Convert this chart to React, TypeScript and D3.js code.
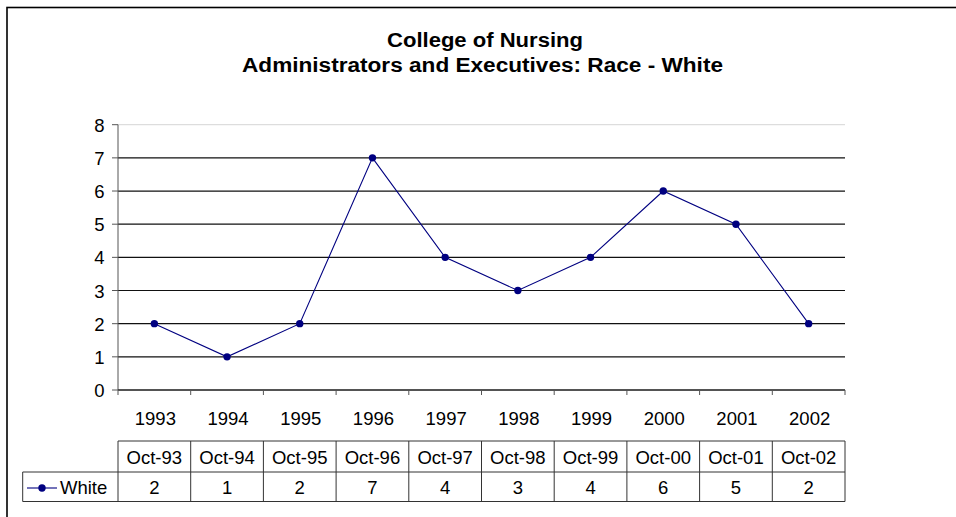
import React from "react";
import * as d3 from "d3";

const titleLines = ["College of Nursing", "Administrators and Executives: Race - White"];
const years = ["1993", "1994", "1995", "1996", "1997", "1998", "1999", "2000", "2001", "2002"];
const dateLabels = ["Oct-93", "Oct-94", "Oct-95", "Oct-96", "Oct-97", "Oct-98", "Oct-99", "Oct-00", "Oct-01", "Oct-02"];
const seriesName = "White";
const whiteValues = [2, 1, 2, 7, 4, 3, 4, 6, 5, 2];
const yTicks = [0, 1, 2, 3, 4, 5, 6, 7, 8];

const W = 956;
const H = 517;
const plotLeft = 118;
const plotRight = 845;
const plotTop = 124.7;
const plotBottom = 390;
const font = "'Liberation Sans', Arial, sans-serif";
const navy = "#000080";
const fs = 18.5;

export default function App() {
  const x = d3.scaleBand<string>().domain(years).range([plotLeft, plotRight]);
  const y = d3.scaleLinear().domain([0, 8]).range([plotBottom, plotTop]);
  const cx = (i: number) => (x(years[i]) as number) + x.bandwidth() / 2;
  const line = d3
    .line<number>()
    .x((_, i) => cx(i))
    .y((d) => y(d));

  const hdrTop = 441;
  const rowTop = 472;
  const rowBottom = 501.5;
  const legendLeft = 22.7;

  return (
    <svg
      width={W}
      height={H}
      style={{ position: "absolute", left: 0, top: 0, background: "#fff" }}
      fontFamily={font}
    >
      <rect x={0} y={0} width={W} height={H} fill="#fff" />
      {/* outer frame */}
      <rect x={7} y={7.5} width={1200} height={800} fill="none" stroke="#000" strokeWidth={1.6} />

      {/* title */}
      <text x={485} y={47} textAnchor="middle" fontSize={19.5} fontWeight="bold" textLength={196} lengthAdjust="spacingAndGlyphs">
        {titleLines[0]}
      </text>
      <text x={482.5} y={72} textAnchor="middle" fontSize={19.5} fontWeight="bold" textLength={481} lengthAdjust="spacingAndGlyphs">
        {titleLines[1]}
      </text>

      {/* gridlines */}
      {yTicks.map((t) => (
        <line
          key={"g" + t}
          x1={plotLeft}
          x2={plotRight}
          y1={y(t)}
          y2={y(t)}
          stroke={t === 8 ? "#dddddd" : "#111"}
          strokeWidth={1.2}
        />
      ))}

      {/* y axis */}
      <line x1={plotLeft} x2={plotLeft} y1={plotTop} y2={plotBottom} stroke="#555" strokeWidth={1} />
      {yTicks.map((t) => (
        <g key={"yt" + t}>
          <line x1={plotLeft - 6} x2={plotLeft} y1={y(t)} y2={y(t)} stroke="#555" />
          <text x={104.5} y={y(t) + 7} textAnchor="end" fontSize={fs}>
            {t}
          </text>
        </g>
      ))}

      {/* x axis */}
      <line x1={plotLeft} x2={plotRight} y1={plotBottom} y2={plotBottom} stroke="#222" strokeWidth={1.2} />
      {years.map((yr) => (
        <line
          key={"xt" + yr}
          x1={x(yr) as number}
          x2={x(yr) as number}
          y1={plotBottom}
          y2={plotBottom + 5}
          stroke="#555"
        />
      ))}
      <line x1={plotRight} x2={plotRight} y1={plotBottom} y2={plotBottom + 5} stroke="#555" />
      {years.map((yr, i) => (
        <text key={"xl" + yr} x={cx(i) + 1} y={424.5} textAnchor="middle" fontSize={fs}>
          {yr}
        </text>
      ))}

      {/* series */}
      <path d={line(whiteValues) || ""} fill="none" stroke={navy} strokeWidth={1.1} />
      {whiteValues.map((v, i) => (
        <circle key={"p" + i} cx={cx(i)} cy={y(v)} r={3.7} fill={navy} />
      ))}

      {/* data table */}
      <g stroke="#333" strokeWidth={1} fill="none">
        <line x1={plotLeft} x2={plotRight} y1={hdrTop} y2={hdrTop} />
        <line x1={legendLeft} x2={plotRight} y1={rowTop} y2={rowTop} />
        <line x1={legendLeft} x2={plotRight} y1={rowBottom} y2={rowBottom} />
        <line x1={legendLeft} x2={legendLeft} y1={rowTop} y2={rowBottom} />
        {years.map((yr) => (
          <line key={"tv" + yr} x1={x(yr) as number} x2={x(yr) as number} y1={hdrTop} y2={rowBottom} />
        ))}
        <line x1={plotRight} x2={plotRight} y1={hdrTop} y2={rowBottom} />
      </g>
      {dateLabels.map((d, i) => (
        <text key={"dl" + d} x={cx(i)} y={463.5} textAnchor="middle" fontSize={fs}>
          {d}
        </text>
      ))}
      {whiteValues.map((v, i) => (
        <text key={"dv" + i} x={cx(i)} y={494} textAnchor="middle" fontSize={fs}>
          {v}
        </text>
      ))}
      {/* legend key */}
      <line x1={27} x2={57} y1={488} y2={488} stroke={navy} strokeWidth={1.1} />
      <circle cx={42} cy={488} r={3.7} fill={navy} />
      <text x={60} y={494} fontSize={fs}>
        {seriesName}
      </text>
    </svg>
  );
}
